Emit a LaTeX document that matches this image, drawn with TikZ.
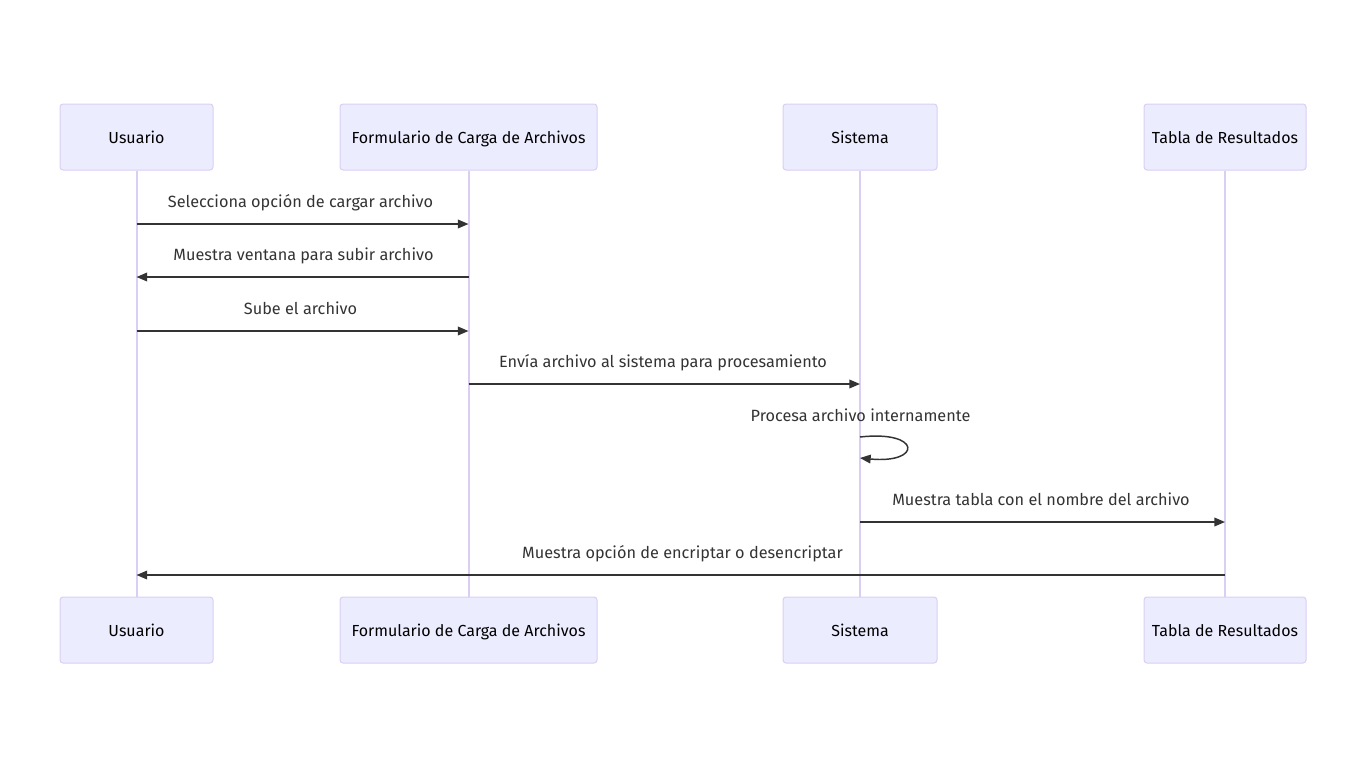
\documentclass[tikz,border=0pt]{standalone}
\usepackage{fontspec}
\setmainfont{Fira Sans}
\usetikzlibrary{arrows.meta}
\definecolor{boxfill}{HTML}{ECECFF}
\definecolor{boxline}{HTML}{DACEF3}
\definecolor{ink}{HTML}{333333}
\tikzset{
  actor/.style={draw=boxline, fill=boxfill, rounded corners=2.25pt, line width=0.75pt,
    minimum height=66*0.75pt, inner sep=0pt, text=black, text height=10.4pt, text depth=1.2pt,
    font=\fontsize{12pt}{14pt}\selectfont},
  life/.style={draw=boxline, line width=1.5pt},
  msg/.style={draw=ink, line width=1.1pt, -{Triangle[length=8pt,width=6.5pt]}},
  lbl/.style={text=ink, font=\fontsize{12.2pt}{14pt}\selectfont, inner sep=0pt, anchor=base}
}
\begin{document}
\begin{tikzpicture}[x=0.75pt,y=-0.75pt]
\useasboundingbox (0,0) rectangle (1366,767);
% top actors
\node[actor, minimum width=153*0.75pt] (uT) at (136.5,137) {Usuario};
\node[actor, minimum width=257*0.75pt] (fT) at (468.5,137) {Formulario de Carga de Archivos};
\node[actor, minimum width=154*0.75pt] (sT) at (860,137) {Sistema};
\node[actor, minimum width=162*0.75pt] (tT) at (1225,137) {Tabla de Resultados};
% bottom actors
\node[actor, minimum width=153*0.75pt] (uB) at (136.5,630) {Usuario};
\node[actor, minimum width=257*0.75pt] (fB) at (468.5,630) {Formulario de Carga de Archivos};
\node[actor, minimum width=154*0.75pt] (sB) at (860,630) {Sistema};
\node[actor, minimum width=162*0.75pt] (tB) at (1225,630) {Tabla de Resultados};
% lifelines
\draw[life] (uT.south) -- (uB.north);
\draw[life] (fT.south) -- (fB.north);
\draw[life] (sT.south) -- (sB.north);
\draw[life] (tT.south) -- (tB.north);
% messages
\draw[msg] (uT.south |- 0,224) -- (fT.south |- 0,224);
\node[lbl] (l1) at (300.5,207) {Selecciona opción de cargar archivo};
\draw[msg] (fT.south |- 0,277) -- (uT.south |- 0,277);
\node[lbl] (l2) at (303.5,260) {Muestra ventana para subir archivo};
\draw[msg] (uT.south |- 0,331) -- (fT.south |- 0,331);
\node[lbl] (l3) at (300.5,314) {Sube el archivo};
\draw[msg] (fT.south |- 0,384) -- (sT.south |- 0,384);
\node[lbl] (l4) at (663,367) {Envía archivo al sistema para procesamiento};
\node[lbl] (l5) at (860.5,421) {Procesa archivo internamente};
\draw[msg] (sT.south |- 0,437) .. controls (922,430) and (922,464) .. (sT.south |- 0,458);
\draw[msg] (sT.south |- 0,522) -- (tT.south |- 0,522);
\node[lbl] (l6) at (1041,505) {Muestra tabla con el nombre del archivo};
\draw[msg] (tT.south |- 0,575) -- (uT.south |- 0,575);
\node[lbl] (l7) at (682.5,558) {Muestra opción de encriptar o desencriptar};
\end{tikzpicture}
\end{document}
